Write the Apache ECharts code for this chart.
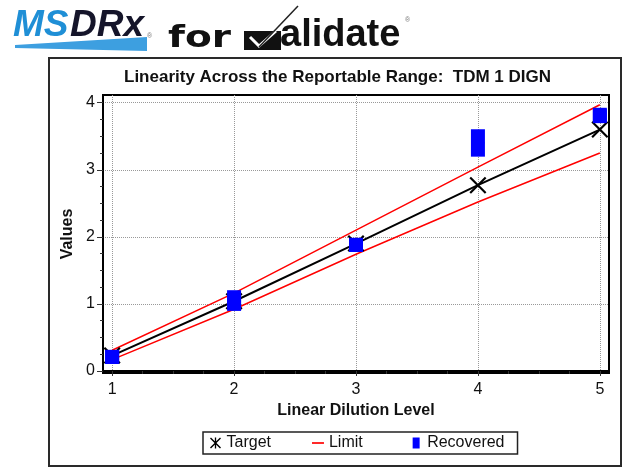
<!DOCTYPE html>
<html>
<head>
<meta charset="utf-8">
<script src="https://cdn.jsdelivr.net/npm/echarts@6/dist/echarts.min.js"></script>
<style>
  html, body { margin: 0; padding: 0; background: #fff; }
  #main { width: 624px; height: 471px; }
</style>
</head>
<body>
<div id="main"></div>
<script>
// 数据
var levels = [1, 2, 3, 4, 5];
var target = [0.23, 1.04, 1.90, 2.77, 3.60];
var limitUpper = [0.31, 1.16, 2.10, 3.04, 3.97];
var limitLower = [0.17, 0.92, 1.74, 2.52, 3.25];
var recovered1 = [0.21, 1.10, 1.88, 3.50, 3.82];
var recovered2 = [0.21, 1.00, 1.88, 3.30, 3.80];
var xTicks = [1, 2, 3, 4, 5];
var yTicks = [0, 1, 2, 3, 4];

function pairs(ys) {
  return levels.map(function (x, i) { return [x, ys[i]]; });
}
var recoveredData = pairs(recovered1).concat(pairs(recovered2));

var xMark = 'path://M0,0.9L0.9,0L5,4.1L9.1,0L10,0.9L5.9,5L10,9.1L9.1,10L5,5.9L0.9,10L0,9.1L4.1,5Z';
var xMarkLegend = xMark + 'M4.4,0L5.6,0L5.6,10L4.4,10Z';
var font = '"Liberation Sans", Arial, sans-serif';

var myChart = echarts.init(document.getElementById('main'));
var option = {
  backgroundColor: '#fff',
  animation: false,
  title: {
    text: 'Linearity Across the Reportable Range:  TDM 1 DIGN',
    left: 124,
    top: 69,
    padding: 0,
    textStyle: { fontFamily: font, fontSize: 17, fontWeight: 'bold', color: '#111' }
  },
  legend: {
    left: 203,
    top: 432,
    padding: [3, 13, 3, 7],
    itemGap: 41,
    itemWidth: 12,
    itemHeight: 11,
    borderColor: '#222',
    borderWidth: 1.5,
    textStyle: { fontFamily: font, fontSize: 16, color: '#111' },
    formatter: function (name) { return name === 'Limit' ? 'Limit  ' : name; },
    data: [
      { name: 'Target', icon: xMarkLegend },
      { name: 'Limit', icon: 'path://M0,0L10,0L10,1.4L0,1.4Z' },
      { name: 'Recovered', icon: 'path://M0,0L7,0L7,11L0,11Z' }
    ]
  },
  grid: {
    left: 103, top: 95, right: 15, bottom: 98,
    show: true, borderColor: '#000', borderWidth: 2
  },
  xAxis: {
    type: 'value',
    min: 0.925,
    max: 5.075,
    name: 'Linear Dilution Level',
    nameLocation: 'middle',
    nameGap: 27,
    nameTextStyle: { fontFamily: font, fontSize: 16, fontWeight: 'bold', color: '#111' },
    axisLine: { lineStyle: { color: '#000', width: 2 } },
    axisTick: { length: 5, lineStyle: { color: '#333' }, customValues: xTicks },
    minorTick: { show: true, splitNumber: 4, length: 3, lineStyle: { color: '#333' } },
    axisLabel: { customValues: xTicks, margin: 9, fontFamily: font, fontSize: 16, color: '#111' },
    splitLine: { lineStyle: { color: '#999', type: 'dotted' } }
  },
  yAxis: {
    type: 'value',
    min: -0.03,
    max: 4.115,
    name: 'Values',
    nameLocation: 'middle',
    nameGap: 23,
    nameTextStyle: { fontFamily: font, fontSize: 16, fontWeight: 'bold', color: '#111' },
    axisLine: { show: true, lineStyle: { color: '#000', width: 2 } },
    axisTick: { show: true, length: 6, lineStyle: { color: '#333' }, customValues: yTicks },
    minorTick: { show: true, splitNumber: 4, length: 3, lineStyle: { color: '#333' } },
    axisLabel: { customValues: yTicks, margin: 8, fontFamily: font, fontSize: 16, color: '#111' },
    splitLine: { lineStyle: { color: '#999', type: 'dotted' } }
  },
  series: [
    {
      name: 'Limit', type: 'line', data: pairs(limitUpper), symbol: 'none',
      lineStyle: { color: '#ff0000', width: 1.5 }, itemStyle: { color: '#ff0000' }, z: 2
    },
    {
      name: 'Limit', type: 'line', data: pairs(limitLower), symbol: 'none',
      lineStyle: { color: '#ff0000', width: 1.5 }, itemStyle: { color: '#ff0000' }, z: 2
    },
    {
      name: 'Target', type: 'line', data: pairs(target),
      symbol: xMark, symbolSize: 17,
      lineStyle: { color: '#000', width: 2 }, itemStyle: { color: '#000' }, z: 3
    },
    {
      name: 'Recovered', type: 'scatter', data: recoveredData,
      symbol: 'rect', symbolSize: 14,
      itemStyle: { color: '#0000ff', opacity: 1 }, z: 4
    }
  ],
  graphic: [
    { type: 'polygon', shape: { points: [[15, 45], [147, 37], [147, 51], [15, 48]] }, style: { fill: '#3d9fe0' } },
    { type: 'text', x: 13, y: 26, style: { text: 'MS', font: 'italic bold 37px ' + font, fill: '#1f8fd6', verticalAlign: 'middle' } },
    { type: 'text', x: 70, y: 26, style: { text: 'DRx', font: 'italic bold 37px ' + font, fill: '#15152a', verticalAlign: 'middle' } },
    { type: 'text', x: 147, y: 36, style: { text: '®', font: '7px ' + font, fill: '#777', verticalAlign: 'middle' } },
    { type: 'text', x: 168, y: 39, scaleX: 1.3, style: { text: 'for', font: 'bold 30px "DejaVu Sans", sans-serif', fill: '#111', verticalAlign: 'middle' } },
    { type: 'polygon', shape: { points: [[244, 31], [281, 31], [281, 50], [244, 50]] }, style: { fill: '#111' } },
    { type: 'polyline', shape: { points: [[250, 37], [259, 46], [276, 31]] }, style: { stroke: '#fff', lineWidth: 3, fill: null } },
    { type: 'line', shape: { x1: 259, y1: 47, x2: 298, y2: 6 }, style: { stroke: '#222', lineWidth: 1.5 } },
    { type: 'text', x: 280, y: 36, style: { text: 'alidate', font: 'bold 38px ' + font, fill: '#111', verticalAlign: 'middle' } },
    { type: 'text', x: 405, y: 20, style: { text: '®', font: '7px ' + font, fill: '#777', verticalAlign: 'middle' } },
    { type: 'rect', shape: { x: 49, y: 58, width: 572, height: 408 }, style: { fill: null, stroke: '#2a2a2a', lineWidth: 2 } }
  ]
};
myChart.setOption(option);
</script>
</body>
</html>
